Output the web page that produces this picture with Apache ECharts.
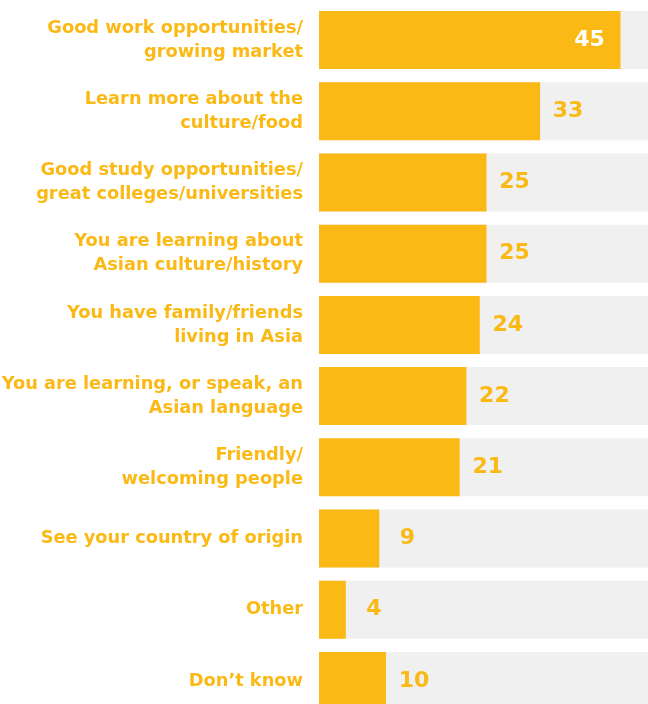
<!DOCTYPE html>
<html>
<head>
<meta charset="utf-8">
<script src="https://cdn.jsdelivr.net/npm/echarts@6/dist/echarts.min.js"></script>
<style>
  html, body { margin: 0; padding: 0; background: #ffffff; }
  #chart { width: 648px; height: 704px; }
</style>
</head>
<body>
<div id="chart"></div>
<script>
// Reasons for interest in Asia (percent of respondents)
const categories = [
  'Good work opportunities/\ngrowing market',
  'Learn more about the\nculture/food',
  'Good study opportunities/\ngreat colleges/universities',
  'You are learning about\nAsian culture/history',
  'You have family/friends\nliving in Asia',
  'You are learning, or speak, an\nAsian language',
  'Friendly/\nwelcoming people',
  'See your country of origin',
  'Other',
  'Don\u2019t know'
];
const values = [45, 33, 25, 25, 24, 22, 21, 9, 4, 10];
const axisMax = 50;

const YELLOW = '#FBB915';
const GREY = '#F0F0F0';
const FONT = '"DejaVu Sans", "Noto Sans", sans-serif';

const chart = echarts.init(document.getElementById('chart'), null, { renderer: 'canvas' });

chart.setOption({
  backgroundColor: '#ffffff',
  animation: false,
  grid: {
    left: 319, width: 335, top: 4.5, height: 712,
    containLabel: false,
    outerBoundsMode: 'none'
  },
  xAxis: {
    type: 'value', min: 0, max: axisMax,
    show: false
  },
  yAxis: {
    type: 'category',
    data: categories,
    inverse: true,
    axisLine: { show: false },
    axisTick: { show: false },
    axisLabel: {
      margin: 16,
      align: 'right',
      color: YELLOW,
      fontFamily: FONT,
      fontWeight: 'bold',
      fontSize: 17.8,
      lineHeight: 24
    }
  },
  series: [
    {
      // light grey track behind each bar
      type: 'bar',
      data: values.map(() => axisMax),
      barWidth: 58,
      barGap: '-100%',
      itemStyle: { color: GREY },
      silent: true,
      z: 1
    },
    {
      type: 'bar',
      data: values.map(v => ({
        value: v,
        label: v >= 40
          ? { position: 'insideRight', distance: 31, align: 'center', color: '#ffffff' }
          : { position: 'right', distance: 28, align: 'center', color: YELLOW }
      })),
      barWidth: 58,
      itemStyle: { color: YELLOW },
      label: {
        show: true,
        fontFamily: FONT,
        fontWeight: 'bold',
        fontSize: 22
      },
      z: 2
    }
  ]
});
</script>
</body>
</html>
